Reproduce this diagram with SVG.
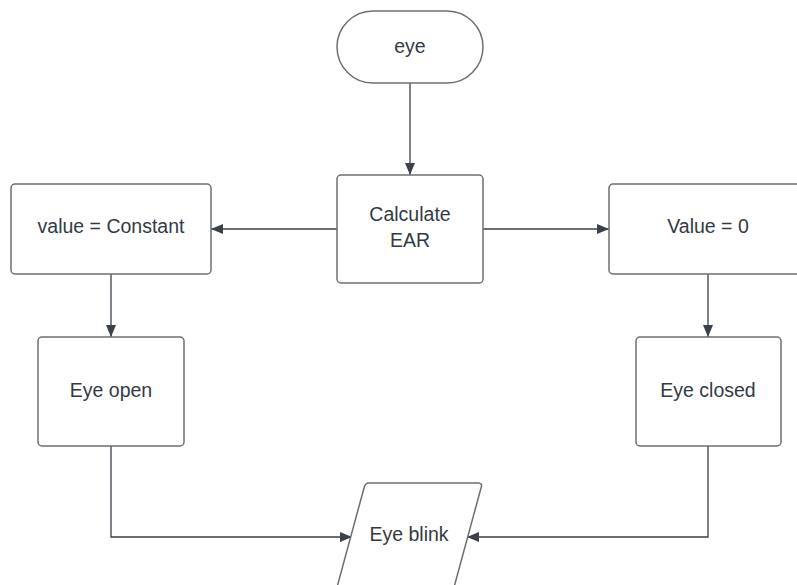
<svg xmlns="http://www.w3.org/2000/svg" width="797" height="585" viewBox="0 0 797 585">
  <defs>
    <marker id="arrow" viewBox="0 0 12 10" refX="12" refY="5" markerWidth="12" markerHeight="10" markerUnits="userSpaceOnUse" orient="auto">
      <path d="M0,0 L12,5 L0,10 Z" fill="#3a414a"/>
    </marker>
  </defs>
  <style>
    .shape { fill: #ffffff; stroke: #6b6f75; stroke-width: 1.5; }
    .label { font-family: "Liberation Sans", Arial, sans-serif; font-size: 19.5px; fill: #333a45; text-anchor: middle; dominant-baseline: central; }
    .edge { fill: none; stroke: #3a414a; stroke-width: 1.3; marker-end: url(#arrow); }
  </style>
  <rect width="797" height="585" fill="#ffffff"/>

  <g id="edges">
    <path class="edge" d="M410,83 L410,175"/>
    <path class="edge" d="M337,229 L211,229"/>
    <path class="edge" d="M483,229 L609,229"/>
    <path class="edge" d="M111,274 L111,337"/>
    <path class="edge" d="M708,274 L708,337"/>
    <path class="edge" d="M111,446 L111,537 L352,537"/>
    <path class="edge" d="M708,446 L708,537 L467,537"/>
  </g>

  <g id="eye">
    <rect class="shape" x="337" y="11" width="146" height="72" rx="36" ry="36"/>
    <text class="label" x="410" y="46">eye</text>
  </g>

  <g id="calculate-ear">
    <rect class="shape" x="337" y="175" width="146" height="108" rx="4"/>
    <text class="label" x="410" y="214">Calculate</text>
    <text class="label" x="410" y="240">EAR</text>
  </g>

  <g id="value-constant">
    <rect class="shape" x="11" y="184" width="200" height="90" rx="4"/>
    <text class="label" x="111" y="226">value = Constant</text>
  </g>

  <g id="value-zero">
    <rect class="shape" x="609" y="184" width="200" height="90" rx="4"/>
    <text class="label" x="708" y="226">Value = 0</text>
  </g>

  <g id="eye-open">
    <rect class="shape" x="38" y="337" width="146" height="109" rx="4"/>
    <text class="label" x="111" y="390">Eye open</text>
  </g>

  <g id="eye-closed">
    <rect class="shape" x="636" y="337" width="145" height="109" rx="4"/>
    <text class="label" x="708" y="390">Eye closed</text>
  </g>

  <g id="eye-blink">
    <path class="shape" d="M369,483 L478,483 Q483,483 481,488 L453,591 L336,591 L364,488 Q365,483 369,483 Z"/>
    <text class="label" x="409" y="534">Eye blink</text>
  </g>
</svg>
